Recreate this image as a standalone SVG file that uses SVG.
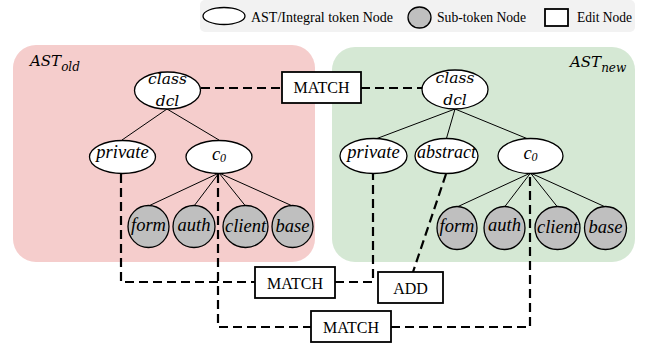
<svg xmlns="http://www.w3.org/2000/svg" width="654" height="345" viewBox="0 0 654 345">
  <style>
    .panel-old { fill: #f5cdcc; }
    .panel-new { fill: #d5e8d4; }
    .node { fill: #ffffff; stroke: #000000; stroke-width: 1.3; }
    .sub { fill: #bfbfbf; stroke: #000000; stroke-width: 1.3; }
    .edit { fill: #ffffff; stroke: #000000; stroke-width: 1.8; }
    .edge { stroke: #000000; stroke-width: 1; fill: none; }
    .dash { stroke: #000000; stroke-width: 2.2; stroke-dasharray: 9 5; fill: none; }
    .lbl { font-family: "Liberation Serif", "Times New Roman", serif; font-style: italic; font-size: 18.5px; fill: #000; text-anchor: middle; }
    .math { font-family: "DejaVu Serif", "Liberation Serif", serif; font-style: italic; fill: #000; }
    .box { font-family: "Liberation Serif", "Times New Roman", serif; font-size: 16px; fill: #000; text-anchor: middle; }
    .leg { font-family: "Liberation Serif", "Times New Roman", serif; font-size: 14px; fill: #000; }
  </style>

  <!-- legend -->
  <g id="legend">
    <rect x="200" y="0" width="435" height="32" rx="5" fill="#f2f2f2"/>
    <ellipse class="node" cx="224" cy="16" rx="21" ry="8.5"/>
    <text class="leg" x="251" y="22" textLength="142" lengthAdjust="spacingAndGlyphs">AST/Integral  token Node</text>
    <ellipse class="sub" cx="419.5" cy="17.5" rx="11.5" ry="10.5"/>
    <text class="leg" x="437" y="22" textLength="89" lengthAdjust="spacingAndGlyphs">Sub-token Node</text>
    <rect class="edit" x="545" y="9" width="23" height="17"/>
    <text class="leg" x="577" y="22" textLength="55" lengthAdjust="spacingAndGlyphs">Edit Node</text>
  </g>

  <!-- tree panels -->
  <g id="panel-old">
    <rect class="panel-old" x="13" y="45" width="302" height="217" rx="23"/>
    <text class="math" x="30" y="66" font-size="15">AST<tspan font-size="12" dy="5">old</tspan></text>
  </g>
  <g id="panel-new">
    <rect class="panel-new" x="332" y="47" width="303" height="215" rx="23"/>
    <text class="math" x="570" y="67" font-size="15">AST<tspan font-size="12" dy="5">new</tspan></text>
  </g>

  <!-- connectors -->
  <g id="connectors">
    <!-- tree edges, old AST -->
    <line class="edge" x1="167" y1="109" x2="122" y2="140"/>
    <line class="edge" x1="167" y1="109" x2="219" y2="140"/>
    <line class="edge" x1="219" y1="173" x2="148.5" y2="206"/>
    <line class="edge" x1="219" y1="173" x2="194" y2="206"/>
    <line class="edge" x1="219" y1="173" x2="245.5" y2="206"/>
    <line class="edge" x1="219" y1="173" x2="292.5" y2="206"/>
    <!-- tree edges, new AST -->
    <line class="edge" x1="455" y1="109" x2="373" y2="140"/>
    <line class="edge" x1="455" y1="109" x2="446" y2="140"/>
    <line class="edge" x1="455" y1="109" x2="530.5" y2="140"/>
    <line class="edge" x1="530.5" y1="173" x2="457" y2="207"/>
    <line class="edge" x1="530.5" y1="173" x2="504.5" y2="207"/>
    <line class="edge" x1="530.5" y1="173" x2="557.5" y2="207"/>
    <line class="edge" x1="530.5" y1="173" x2="605.5" y2="207"/>
    <!-- edit links -->
    <path class="dash" d="M201,88 H282"/>
    <path class="dash" d="M361,88 H422"/>
    <path class="dash" d="M121,174 V282 H255"/>
    <path class="dash" d="M335,282 H373 V174"/>
    <path class="dash" d="M446,174 L413,272"/>
    <path class="dash" d="M218,174 V327 H311"/>
    <path class="dash" d="M391,327 H530 V174"/>
  </g>

  <!-- old AST nodes -->
  <g id="old-classdcl">
    <ellipse class="node" cx="167.5" cy="90.5" rx="33" ry="18.5"/>
    <text class="math" x="167.5" y="84" font-size="15.5" text-anchor="middle">class</text>
    <text class="math" x="167.5" y="106" font-size="15.5" text-anchor="middle">dcl</text>
  </g>
  <g id="old-private">
    <ellipse class="node" cx="122.5" cy="157" rx="33" ry="16.5"/>
    <text class="lbl" x="122.5" y="158">private</text>
  </g>
  <g id="old-c0">
    <ellipse class="node" cx="219" cy="157" rx="33" ry="16.5"/>
    <text class="lbl" x="219" y="160">c<tspan font-size="12" dy="2">0</tspan></text>
  </g>
  <g id="old-form">
    <ellipse class="sub" cx="148.5" cy="226.5" rx="20.5" ry="21"/>
    <text class="lbl" x="148.5" y="231">form</text>
  </g>
  <g id="old-auth">
    <ellipse class="sub" cx="194" cy="226.5" rx="21" ry="21"/>
    <text class="lbl" x="194" y="231">auth</text>
  </g>
  <g id="old-client">
    <ellipse class="sub" cx="245.5" cy="226.5" rx="22.5" ry="21"/>
    <text class="lbl" x="245.5" y="232">client</text>
  </g>
  <g id="old-base">
    <ellipse class="sub" cx="292.5" cy="226.5" rx="20.5" ry="21"/>
    <text class="lbl" x="292.5" y="232">base</text>
  </g>

  <!-- new AST nodes -->
  <g id="new-classdcl">
    <ellipse class="node" cx="455" cy="89.5" rx="33" ry="19.5"/>
    <text class="math" x="455" y="83" font-size="15.5" text-anchor="middle">class</text>
    <text class="math" x="455" y="105" font-size="15.5" text-anchor="middle">dcl</text>
  </g>
  <g id="new-private">
    <ellipse class="node" cx="373.5" cy="156" rx="33.5" ry="17.5"/>
    <text class="lbl" x="373.5" y="158">private</text>
  </g>
  <g id="new-abstract">
    <ellipse class="node" cx="446.5" cy="156" rx="31.5" ry="17.5"/>
    <text class="lbl" x="446.5" y="158" textLength="59" lengthAdjust="spacingAndGlyphs">abstract</text>
  </g>
  <g id="new-c0">
    <ellipse class="node" cx="530.5" cy="156" rx="32.5" ry="17.5"/>
    <text class="lbl" x="530.5" y="159">c<tspan font-size="12" dy="2">0</tspan></text>
  </g>
  <g id="new-form">
    <ellipse class="sub" cx="457" cy="228" rx="20" ry="21.5"/>
    <text class="lbl" x="457" y="232">form</text>
  </g>
  <g id="new-auth">
    <ellipse class="sub" cx="504.5" cy="228" rx="20.5" ry="21.5"/>
    <text class="lbl" x="504.5" y="231">auth</text>
  </g>
  <g id="new-client">
    <ellipse class="sub" cx="557.5" cy="228" rx="22.5" ry="21.5"/>
    <text class="lbl" x="557.5" y="233">client</text>
  </g>
  <g id="new-base">
    <ellipse class="sub" cx="605.5" cy="228" rx="21" ry="21.5"/>
    <text class="lbl" x="605.5" y="233">base</text>
  </g>

  <!-- edit nodes -->
  <g id="edit-match-root">
    <rect class="edit" x="282" y="72" width="79" height="31"/>
    <text class="box" x="321.5" y="93">MATCH</text>
  </g>
  <g id="edit-match-private">
    <rect class="edit" x="255" y="267" width="80" height="31"/>
    <text class="box" x="295" y="289">MATCH</text>
  </g>
  <g id="edit-add-abstract">
    <rect class="edit" x="378" y="272" width="65" height="31"/>
    <text class="box" x="410.5" y="294">ADD</text>
  </g>
  <g id="edit-match-c0">
    <rect class="edit" x="311" y="311" width="80" height="31"/>
    <text class="box" x="351" y="333">MATCH</text>
  </g>
</svg>
